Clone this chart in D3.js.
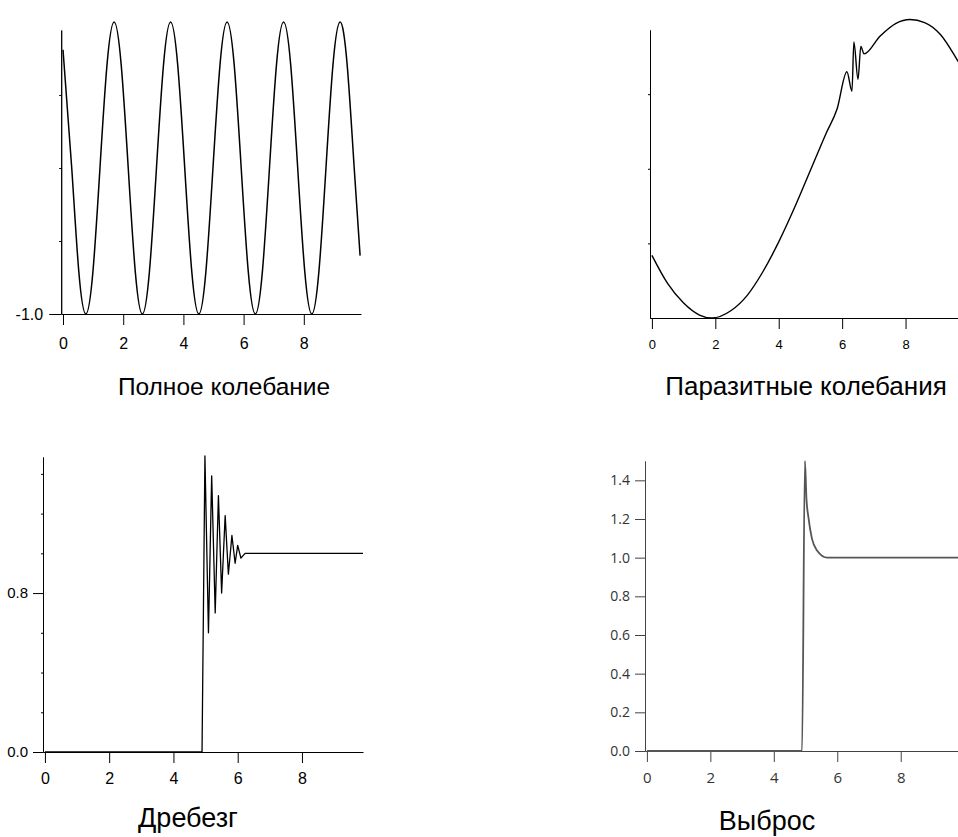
<!DOCTYPE html>
<html>
<head>
<meta charset="utf-8">
<script src="https://cdn.jsdelivr.net/npm/d3@7"></script>
<style>
  body { margin: 0; background: #fff; }
  svg { display: block; }
  .title { font-family: "Liberation Sans", Arial, sans-serif; fill: #000; text-anchor: middle; }
</style>
</head>
<body>
<div id="chart-area"></div>
<script>

// ---- data ----

// full oscillation (top left)
var fullX = [0, 0.29, 0.525, 0.759, 0.994, 1.228, 1.463, 1.698, 1.932, 2.167, 2.401, 2.636, 2.871,
  3.105, 3.340, 3.574, 3.809, 4.044, 4.278, 4.513, 4.747, 4.982, 5.217, 5.451, 5.686, 5.920,
  6.155, 6.390, 6.624, 6.859, 7.093, 7.328, 7.563, 7.797, 8.032, 8.266, 8.501, 8.736, 8.970,
  9.205, 9.439, 9.674, 9.87];
var fullY = [0.81, 0, -0.71, -1, -0.71, 0, 0.71, 1, 0.71, 0, -0.71, -1, -0.71,
  0, 0.71, 1, 0.71, 0, -0.71, -1, -0.71, 0, 0.71, 1, 0.71, 0,
  -0.71, -1, -0.71, 0, 0.71, 1, 0.71, 0, -0.71, -1, -0.71, 0, 0.71,
  1, 0.71, 0, -0.6];

// parasitic oscillation (top right)
var parasiteX = [0, 0.5, 1.0, 1.5, 1.89, 2.5, 3.0, 3.5, 4.0, 4.5, 5.0, 5.5, 5.84,
  6.15, 6.31, 6.37, 6.50, 6.59, 6.69, 7.2, 7.7, 8.14, 8.6, 9.1, 9.6, 9.9];
var parasiteY = [-0.58, -0.77, -0.90, -0.98, -1.0, -0.95, -0.85, -0.69, -0.49, -0.26, -0.01, 0.24, 0.40,
  0.65, 0.52, 0.85, 0.60, 0.82, 0.77, 0.89, 0.975, 1.0, 0.98, 0.90, 0.74, 0.63];

// bounce (bottom left)
var bounceX = [0, 4.89, 4.98, 5.09, 5.19, 5.30, 5.40, 5.50, 5.61, 5.71, 5.82, 5.92, 6.00, 6.10, 6.23, 9.9];
var bounceY = [0, 0, 1.49, 0.60, 1.39, 0.70, 1.29, 0.80, 1.19, 0.895, 1.09, 0.95, 1.04, 0.976, 1.0, 1.0];

// overshoot (bottom right)
var spikeX = [0, 4.89, 4.98, 5.03, 5.09, 5.20, 5.35, 5.69, 9.9];
var spikeY = [0, 0, 1.5, 1.30, 1.21, 1.10, 1.04, 1.0, 1.0];

var xTicks = [0, 2, 4, 6, 8];
var titles = ["Полное колебание", "Паразитные колебания", "Дребезг", "Выброс"];

// ---- drawing ----

var svg = d3.select("#chart-area").append("svg")
    .attr("width", 958)
    .attr("height", 837);

function zip(xs, ys) {
  return xs.map(function(d, i) { return [d, ys[i]]; });
}

function drawPanel(p) {
  var g = svg.append("g");

  var x = d3.scaleLinear().domain([-0.06, 9.9]).range(p.xRange);
  var y = d3.scaleLinear().domain(p.yDomain).range(p.yRange);

  // minor y ticks (no labels)
  g.append("g")
    .attr("transform", "translate(" + x(-0.06) + ",0)")
    .call(d3.axisLeft(y).tickValues(p.minorTicks).tickSize(2).tickSizeOuter(0).tickFormat(""))
    .call(function(a) {
      a.select(".domain").attr("stroke", p.axisColor);
      a.selectAll(".tick line").attr("stroke", p.axisColor);
    });

  // labelled y ticks
  g.append("g")
    .attr("transform", "translate(" + x(-0.06) + ",0)")
    .call(d3.axisLeft(y).tickValues(p.majorTicks).tickSize(p.yTickSize).tickPadding(p.yPad)
      .tickSizeOuter(0).tickFormat(function(d) { return d3.format(".1f")(d).replace("−", "-"); }))
    .call(function(a) {
      a.select(".domain").attr("stroke", p.axisColor);
      a.selectAll(".tick line").attr("stroke", p.axisColor);
      a.selectAll("text").attr("font-family", p.font).attr("font-size", p.yFont).attr("fill", p.labelColor);
    });

  // x axis
  g.append("g")
    .attr("transform", "translate(0," + y(p.yDomain[0]) + ")")
    .call(d3.axisBottom(x).tickValues(xTicks).tickSize(11).tickPadding(p.xPad)
      .tickSizeOuter(0).tickFormat(d3.format("d")))
    .call(function(a) {
      a.select(".domain").attr("stroke", p.axisColor);
      a.selectAll(".tick line").attr("stroke", p.axisColor);
      a.selectAll("text").attr("font-family", p.font).attr("font-size", p.xFont).attr("fill", p.labelColor);
    });

  var line = d3.line()
    .x(function(d) { return x(d[0]); })
    .y(function(d) { return y(d[1]); })
    .curve(p.curve);

  g.append("path")
    .datum(zip(p.xs, p.ys))
    .attr("fill", "none")
    .attr("stroke", p.lineColor)
    .attr("stroke-width", p.lineWidth)
    .attr("stroke-linejoin", "round")
    .attr("d", line);

  g.append("text")
    .attr("class", "title")
    .attr("x", p.titleX)
    .attr("y", p.titleY)
    .attr("font-size", p.titleSize)
    .text(p.title);
}

var arial = "'Liberation Sans', Arial, sans-serif";

drawPanel({
  xs: fullX, ys: fullY, curve: d3.curveNatural,
  xRange: [61.2, 361], yDomain: [-1, 0.945], yRange: [314, 30],
  minorTicks: [-0.5, 0, 0.5], majorTicks: [-1], yTickSize: 12, yPad: 6,
  font: arial, xFont: 16, yFont: 16, xPad: 13,
  axisColor: "#000", labelColor: "#000", lineColor: "#000", lineWidth: 1.5,
  title: titles[0], titleX: 224, titleY: 395, titleSize: 24.5
});

drawPanel({
  xs: parasiteX, ys: parasiteY, curve: d3.curveMonotoneX,
  xRange: [650, 965.8], yDomain: [-1, 0.93], yRange: [318, 30],
  minorTicks: [-0.5, 0, 0.5], majorTicks: [], yTickSize: 0, yPad: 0,
  font: arial, xFont: 13, yFont: 12, xPad: 11,
  axisColor: "#000", labelColor: "#000", lineColor: "#000", lineWidth: 1.4,
  title: titles[1], titleX: 806, titleY: 395, titleSize: 26
});

drawPanel({
  xs: bounceX, ys: bounceY, curve: d3.curveLinear,
  xRange: [43, 363], yDomain: [0, 1.485], yRange: [752, 457],
  minorTicks: [0.2, 0.4, 0.6, 1.0, 1.2, 1.4], majorTicks: [0, 0.8], yTickSize: 10, yPad: 5,
  font: arial, xFont: 16, yFont: 15, xPad: 10,
  axisColor: "#000", labelColor: "#000", lineColor: "#000", lineWidth: 1.3,
  title: titles[2], titleX: 188, titleY: 827, titleSize: 27
});

drawPanel({
  xs: spikeX, ys: spikeY, curve: d3.curveMonotoneX,
  xRange: [645, 961], yDomain: [0, 1.5], yRange: [751, 461],
  minorTicks: [], majorTicks: [0, 0.2, 0.4, 0.6, 0.8, 1.0, 1.2, 1.4], yTickSize: 10, yPad: 5,
  font: "'Open Sans', sans-serif", xFont: 15, yFont: 14, xPad: 10,
  axisColor: "#444", labelColor: "#333", lineColor: "#555", lineWidth: 1.8,
  title: titles[3], titleX: 767, titleY: 830, titleSize: 27
});

</script>
</body>
</html>
